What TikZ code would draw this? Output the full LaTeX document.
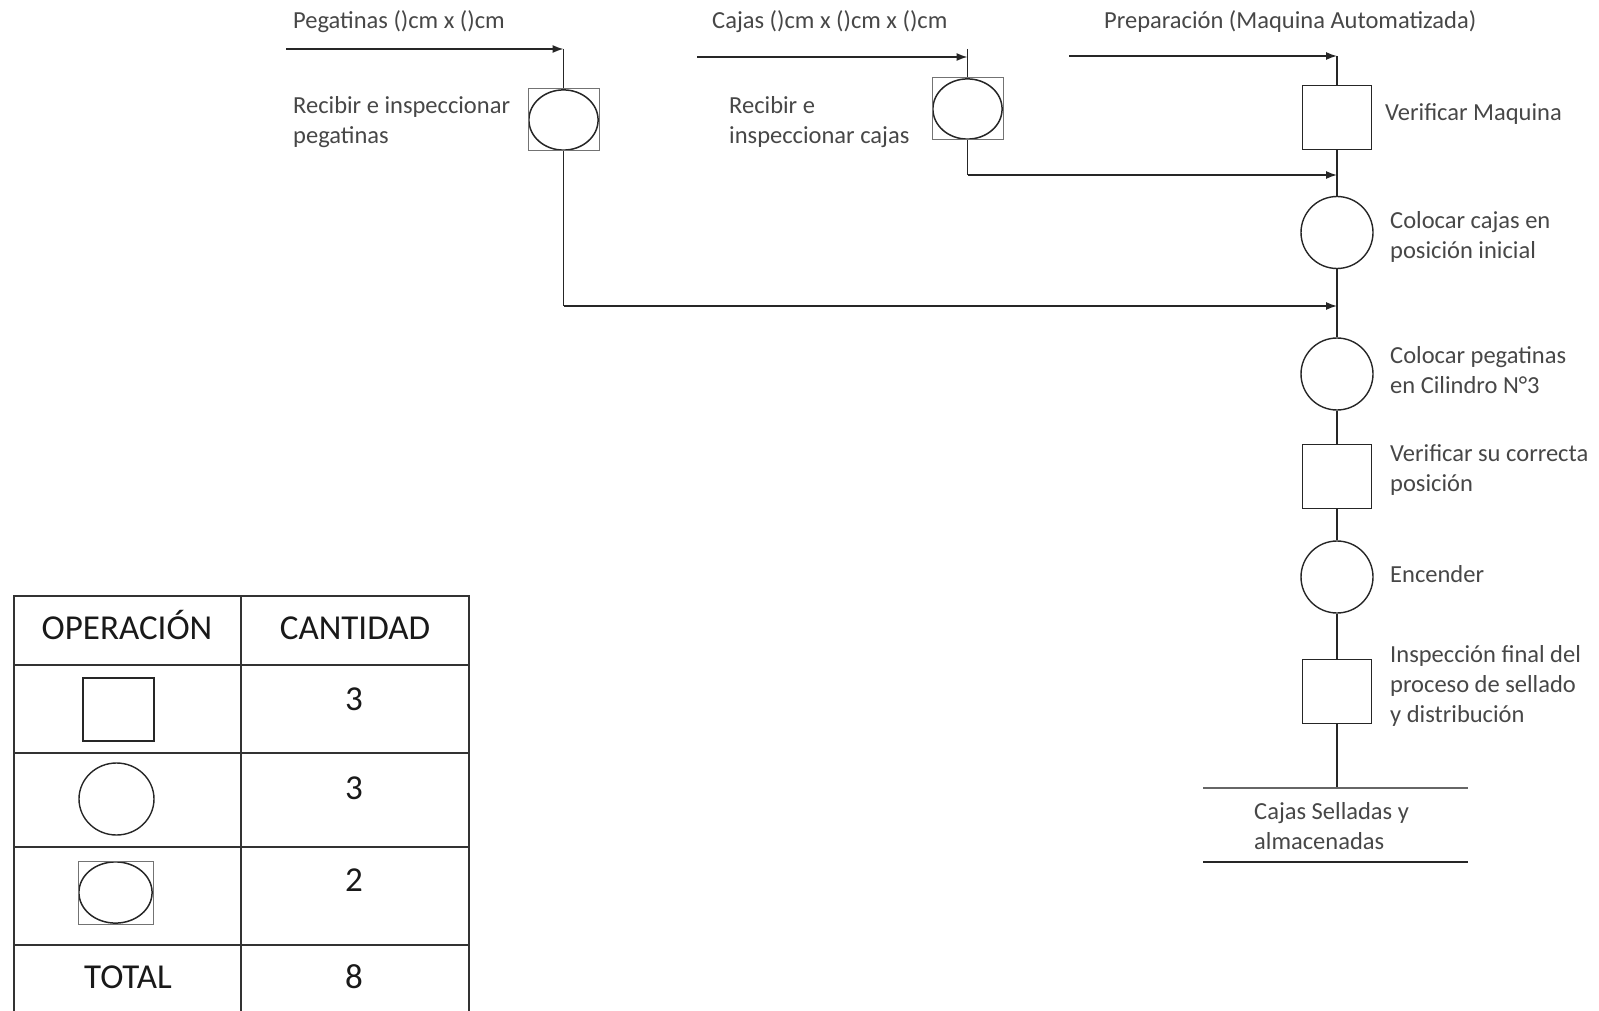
\documentclass[tikz,border=0pt]{standalone}
\usepackage{fontspec}
\setmainfont{Carlito}
\usetikzlibrary{shapes}
\usetikzlibrary{arrows.meta}
\tikzset{
	flow/.style = {
		draw=black!85,
		line width=1.4pt
	},
	tab_line/.style = {
		draw=black!80,
		line width=2.2pt
	},
	node_op/.style = {
		circle,
		draw=black!85,
		line width=1.4pt,
		minimum size=72pt,
		inner sep=0pt
	},
	node_insp/.style = {
		rectangle,
		draw=black!85,
		line width=1.3pt,
		minimum width=69pt,
		minimum height=64pt,
		inner sep=0pt
	},
	node_comb/.style 2 args = {
		rectangle,
		draw=black!55,
		line width=1pt,
		minimum width=#1pt,
		minimum height=#2pt,
		inner sep=0pt,
		path picture={
			\draw[black!85, line width=1.5pt] (path picture bounding box.center)
				ellipse [x radius={(#1/2-0.9)*1pt}, y radius={(#2/2-0.9)*1pt}];
		}
	},
	txt_flow/.style = {
		anchor=west,
		align=left,
		inner sep=0pt,
		text=black!72,
		font=\fontsize{24.5}{30}\selectfont
	},
	txt_tab/.style = {
		inner sep=0pt,
		text=black!90,
		font=\fontsize{35}{42}\selectfont
	}
}

\begin{document}
\begin{tikzpicture}[x=1pt,y=-1pt,>={Latex[length=11pt,width=8pt]}]
\useasboundingbox (0,0) rectangle (1599,1011);

% entradas
\node [txt_flow] (t_peg) at (293,22) {Pegatinas ()cm x ()cm};
\node [txt_flow] (t_caj) at (712,22) {Cajas ()cm x ()cm x ()cm};
\node [txt_flow] (t_prep) at (1104,22) {Preparación (Maquina Automatizada)};
\coordinate (in_peg) at (286,49);
\coordinate (in_caj) at (697,57);
\coordinate (in_prep) at (1069,56);

% recepcion
\node [node_comb={71}{62}] (r_peg) at (563.5,120) {};
\node [node_comb={71}{62}] (r_caj) at (967.5,109) {};
\node [txt_flow] (t_rpeg) at (293,122) {Recibir e inspeccionar\\pegatinas};
\node [txt_flow] (t_rcaj) at (729,122) {Recibir e\\inspeccionar cajas};

% linea principal
\node [node_insp] (v_maq) at (1337,117.5) {};
\node [node_op] (o_caj) at (1337,232.5) {};
\node [node_op] (o_peg) at (1337,374) {};
\node [node_insp] (v_pos) at (1337,476.5) {};
\node [node_op] (o_enc) at (1337,577) {};
\node [node_insp] (v_fin) at (1337,691.5) {};
\coordinate (j_caj) at (1337,175);
\coordinate (j_peg) at (1337,306);
\coordinate (fin) at (1337,788);

\node [txt_flow] (t_vmaq) at (1385,114) {Verificar Maquina};
\node [txt_flow] (t_ocaj) at (1390,237) {Colocar cajas en\\posición inicial};
\node [txt_flow] (t_opeg) at (1390,370) {Colocar pegatinas\\en Cilindro N°3};
\node [txt_flow] (t_vpos) at (1390,470) {Verificar su correcta\\posición};
\node [txt_flow] (t_oenc) at (1390,574) {Encender};
\node [txt_flow] (t_vfin) at (1390,686) {Inspección final del\\proceso de sellado\\y distribución};

% conexiones
\draw [flow,->] (in_peg) -- (r_peg.north |- in_peg);
\draw [flow] (r_peg.north |- in_peg) -- (r_peg.north);
\draw [flow,->] (in_caj) -- (r_caj.north |- in_caj);
\draw [flow] (r_caj.north |- in_peg) -- (r_caj.north);
\draw [flow,->] (in_prep) -- (v_maq.north |- in_prep);
\draw [flow] (v_maq.north |- in_prep) -- (v_maq.north);

\draw [flow] (r_caj.south) -- (r_caj.south |- j_caj);
\draw [flow,->] (r_caj.south |- j_caj) -- (j_caj);
\draw [flow] (r_peg.south) -- (r_peg.south |- j_peg);
\draw [flow,->] (r_peg.south |- j_peg) -- (j_peg);

\draw [flow] (v_maq.south) -- (o_caj.north);
\draw [flow] (o_caj.south) -- (o_peg.north);
\draw [flow] (o_peg.south) -- (v_pos.north);
\draw [flow] (v_pos.south) -- (o_enc.north);
\draw [flow] (o_enc.south) -- (v_fin.north);
\draw [flow] (v_fin.south) -- (fin);

% almacen
\coordinate (fin_l) at (1203,788);
\coordinate (fin_r) at (1468,788);
\coordinate (fin_bl) at (1203,862);
\coordinate (fin_br) at (1468,862);
\draw [flow, draw=black!60] (fin_l) -- (fin_r);
\draw [flow] (fin_bl) -- (fin_br);
\node [txt_flow] (t_fin) at (1254,826) {Cajas Selladas y\\almacenadas};

% tabla resumen
\draw [tab_line] (14,1011) -- (14,596) -- (469,596) -- (469,1011);
\draw [tab_line] (241,596) -- (241,1011);
\foreach \y in {665,753,847,945} {
	\draw [tab_line] (14,\y) -- (469,\y);
}
\node [txt_tab] (h_op) at (127,625) {OPERACIÓN};
\node [txt_tab] (h_cant) at (355,628) {CANTIDAD};
\node [node_insp, minimum width=71pt, minimum height=63pt] (k_insp) at (118.5,709.5) {};
\node [node_op, ellipse, minimum width=75pt, minimum height=72pt] (k_op) at (116.5,799) {};
\node [node_comb={75}{63}] (k_comb) at (115.5,892.5) {};
\node [txt_tab] (n_insp) at (354,699) {3};
\node [txt_tab] (n_op) at (354,788) {3};
\node [txt_tab] (n_comb) at (354,880) {2};
\node [txt_tab] (h_tot) at (128,977) {TOTAL};
\node [txt_tab] (n_tot) at (354,977) {8};
\end{tikzpicture}
\end{document}
